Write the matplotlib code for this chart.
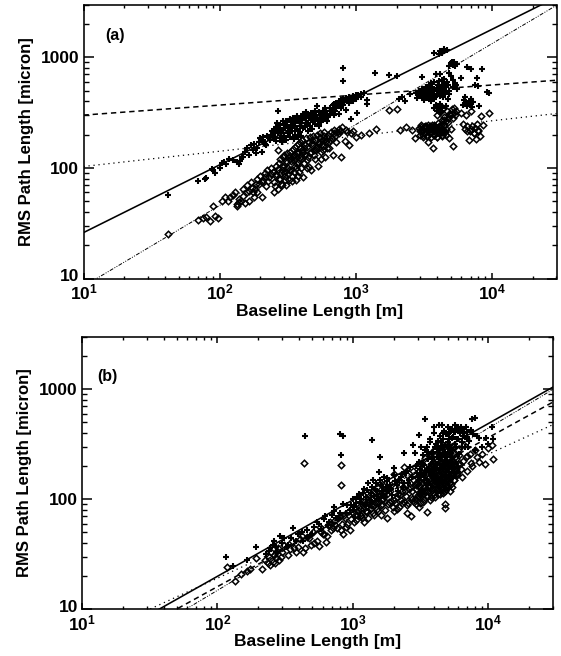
import matplotlib
matplotlib.use('Agg')
import matplotlib.pyplot as plt
from matplotlib.ticker import NullFormatter, FixedLocator
from matplotlib.transforms import ScaledTranslation

plt.rcParams['font.family'] = ['Liberation Sans', 'DejaVu Sans']
plt.rcParams['font.weight'] = 'bold'
plt.rcParams['mathtext.fontset'] = 'custom'
plt.rcParams['mathtext.rm'] = 'Liberation Sans:bold'
plt.rcParams['mathtext.bf'] = 'Liberation Sans:bold'

# panel (a) crosses
a_plus_x = [42, 70, 78, 80, 88, 90, 92, 100, 104, 108, 112, 118, 125, 135, 138, 142, 146,
            150, 155, 160, 165, 170, 175, 180, 185, 190, 195, 200, 205, 210, 215, 220, 230, 240,
            250, 250, 260, 260, 270, 270, 280, 280, 290, 290, 300, 300, 310, 310, 320, 320, 330, 330,
            340, 340, 350, 350, 360, 360, 370, 370, 380, 380, 390, 390, 400, 400, 410, 410, 430, 430,
            450, 450, 470, 470, 480, 480, 500, 500, 525, 520, 540, 540, 560, 560, 580, 580, 600, 600,
            620, 620, 650, 650, 680, 680, 700, 700, 720, 720, 750, 750, 780, 780, 805, 805, 810, 810,
            850, 850, 900, 900, 925, 950, 950, 1000, 1000, 1030, 1100, 1100, 1220, 1220, 1400, 1750, 2020,
            2100, 2200, 2300, 2500, 2800, 2850, 2950, 3000, 3080, 3100, 3150, 3200, 3300, 3300, 3400, 3400,
            3500, 3500, 3600, 3600, 3600, 3700, 3700, 3800, 3800, 3800, 3900, 3900, 4000, 4000, 4000,
            4100, 4100, 4200, 4200, 4200, 4300, 4300, 4300, 4400, 4400, 4500, 4500, 4600, 4700, 4800, 4900, 4900,
            5000, 5200, 5200, 5400, 5500, 5600, 5950, 6300, 6400, 6600, 6700, 6800, 7000, 7000, 7200, 7500,
            7800, 8000, 8100, 8500, 9270, 9600,
            3800, 4100, 4200, 4300, 4400, 4500, 4700, 4900, 5000, 5100, 5200, 5300, 5400, 5600,
            210, 225, 235, 245, 255, 265, 275, 285, 295, 305, 315, 325, 335, 345, 355, 365, 375, 385, 395, 405,
            415, 425, 435, 445, 455, 465, 475, 490, 510, 530, 550, 570, 590, 610, 630, 660, 690, 710, 740, 770,
            820, 870, 920, 980, 1050, 1150,
            2950, 3050, 3150, 3250, 3350, 3450, 3550, 3650, 3750, 3850, 3950, 4050, 4150, 4250, 4350, 4450, 4550,
            4650, 4750, 4850, 4000, 4100, 4200, 3800, 3900, 4300, 6500, 6600, 6900, 6200, 7100, 7300, 3300, 3500, 3700]
a_plus_y = [57, 76, 80, 81, 97, 95, 90, 100, 110, 112, 108, 120, 118, 112, 108, 116, 125,
            125, 140, 150, 130, 160, 145, 165, 135, 150, 170, 185, 140, 178, 165, 160, 190, 200,
            190, 215, 175, 235, 324, 205, 185, 245, 220, 172, 250, 195, 180, 265, 230, 205, 275, 190,
            240, 215, 182, 285, 255, 200, 225, 295, 190, 265, 240, 210, 280, 195, 310, 230, 320, 255,
            300, 215, 315, 270, 225, 290, 250, 330, 364, 280, 240, 320, 300, 260, 330, 275, 345, 290,
            300, 265, 350, 310, 370, 330, 300, 380, 390, 345, 400, 310, 410, 350, 803, 612, 420, 370,
            430, 335, 440, 385, 276, 450, 400, 460, 420, 316, 470, 440, 412, 380, 728, 698, 680,
            420, 440, 400, 470, 480, 430, 500, 460, 670, 520, 450, 410, 540, 470, 500, 430,
            560, 450, 590, 480, 400, 520, 440, 600, 500, 420, 708, 370, 530, 460, 350,
            610, 480, 700, 540, 380, 620, 500, 350, 560, 440, 640, 520, 360, 600, 560, 725, 470,
            680, 620, 540, 580, 560, 520, 656, 410, 440, 810, 375, 390, 790, 420, 355, 560,
            650, 545, 364, 787, 490, 475,
            1090, 1080, 1130, 1100, 1150, 1180, 1160, 830, 880, 900, 860, 910, 840, 870,
            190, 195, 180, 215, 205, 255, 225, 210, 265, 230, 245, 215, 260, 280, 240, 270, 215, 285, 255, 270,
            295, 235, 285, 255, 280, 240, 300, 270, 300, 265, 285, 310, 310, 325, 290, 330, 350, 325, 365, 380,
            395, 405, 420, 440, 455, 480,
            450, 480, 430, 500, 460, 520, 420, 540, 470, 440, 500, 560, 450, 520, 470, 590, 480,
            540, 420, 500, 330, 345, 320, 345, 360, 330, 390, 360, 405, 370, 375, 395, 440, 490, 430]

# panel (a) diamonds
a_dia_x = [42, 70, 75, 80, 85, 92, 97, 90, 105, 110, 115, 120, 125, 130, 135, 140, 145, 150, 155, 160,
           160, 165, 170, 175, 180, 185, 190, 190, 200, 205, 210, 215, 220, 225, 230, 240, 250, 253, 260, 260,
           267, 270, 275, 280, 285, 290, 290, 295, 300, 305, 310, 315, 320, 325, 330, 335, 340, 345, 350, 355,
           360, 365, 370, 375, 380, 385, 390, 395, 400, 405, 410, 420, 430, 440, 450, 460, 470, 480, 490, 500,
           510, 520, 530, 540, 550, 560, 570, 580, 590, 600, 620, 640, 660, 680, 700, 720, 750, 785, 800, 830,
           870, 900, 950, 1000, 1100, 1250, 1420, 1750, 2020, 2130, 2350, 2600, 2750,
           2950, 3000, 3050, 3100, 3150, 3200, 3250, 3300, 3350, 3400, 3400, 3500, 3500, 3600, 3600, 3700, 3700,
           3800, 3800, 3900, 3900, 4000, 4000, 4100, 4100, 4200, 4200, 4300, 4300, 4400, 4400, 4500, 4500, 4600,
           4700, 4800, 4900, 4900, 5000, 5100, 5200, 5200, 5300, 5400, 5500, 5950,
           6200, 6400, 6500, 6600, 6800, 6900, 7000, 7200, 7400, 7500, 7700, 7800, 8000, 8200, 8400, 8700, 9500,
           135, 140, 150, 165, 172, 182, 195, 205, 215, 228, 238, 248, 258, 268, 278, 288, 298, 308, 318, 328,
           338, 348, 358, 368, 378, 388, 398, 412, 425, 438, 452, 465, 478, 492, 505, 525, 545, 565, 585, 610,
           630, 650, 690, 730, 770, 850, 920,
           3000, 3100, 3200, 3300, 3400, 3500, 3600, 3700, 3800, 3900, 4000, 4100, 4200, 4300, 4400, 4500, 4600,
           3050, 3250, 3450, 3650, 3850, 4050, 4250, 4450, 4650, 4800, 4950, 5100, 5300,
           # denser parts of the lower band
           255, 272, 282, 292, 302, 312, 322, 332, 342, 352, 362, 372, 382, 392, 402, 415, 428, 442, 455, 468,
           482, 495, 515, 535, 555, 575, 595, 615, 640, 670, 710, 750,
           3150, 3350, 3550, 3750, 3950, 4150, 4350, 4550, 3200, 3400, 3600, 3800, 4000, 4200, 4400, 6600, 7000, 7400, 7900]
a_dia_y = [25, 34, 35, 36, 33, 37, 35, 45, 50, 54, 50, 55, 57, 60, 47, 49, 50, 65, 48, 70,
           61, 50, 75, 60, 55, 72, 80, 61, 85, 55, 78, 90, 68, 95, 82, 100, 75, 61, 105, 88,
           145, 64, 110, 120, 72, 70, 95, 125, 130, 85, 70, 135, 100, 78, 140, 115, 76, 148, 92, 130,
           155, 78, 108, 165, 85, 140, 170, 100, 120, 178, 82, 150, 185, 100, 125, 190, 95, 160, 195, 120,
           145, 200, 105, 165, 205, 120, 180, 145, 210, 125, 190, 150, 210, 130, 220, 170, 225, 126, 236, 175,
           210, 160, 215, 190, 200, 207, 225, 335, 342, 218, 236, 222, 188,
           230, 200, 245, 215, 190, 235, 205, 240, 195, 225, 173, 240, 205, 235, 190, 150, 225,
           245, 200, 350, 215, 300, 190, 240, 205, 320, 230, 270, 195, 345, 215, 290, 240, 200,
           330, 260, 185, 305, 225, 340, 158, 280, 350, 300, 330, 315,
           250, 225, 300, 240, 179, 215, 330, 240, 205, 230, 184, 250, 220, 195, 295, 245, 316,
           45, 52, 56, 62, 66, 64, 72, 74, 82, 76, 88, 92, 84, 98, 80, 105, 90, 115, 88, 120,
           95, 125, 105, 135, 112, 150, 128, 140, 160, 118, 170, 135, 178, 145, 180, 155, 190, 165, 195, 175,
           200, 180, 205, 210, 215, 220, 205,
           215, 225, 205, 232, 215, 225, 210, 230, 218, 205, 225, 212, 228, 210, 222, 215, 225,
           235, 240, 230, 245, 235, 255, 245, 270, 265, 280, 300, 310, 320,
           68, 80, 90, 102, 78, 112, 95, 128, 84, 118, 100, 138, 92, 122, 145, 110, 130, 155, 102, 140,
           168, 132, 150, 172, 138, 158, 182, 150, 170, 185, 195, 205,
           200, 195, 210, 200, 190, 205, 198, 210, 235, 245, 225, 240, 230, 238, 222, 215, 225, 205, 215]

# panel (b) crosses
b_plus_x = [115, 130, 165, 192, 230, 245, 260, 270, 290, 310, 330, 360, 380, 420, 442, 470, 520, 560, 610, 650,
            700, 720, 750, 800, 805, 815, 850, 900, 950, 1000, 1050, 1100, 1150, 1200, 1250, 1300, 1350, 1390, 1400, 1450,
            1500, 1550, 1580, 1600, 1650, 1700, 1750, 1800, 1900, 2000, 2000, 2100, 2200, 2300, 2370, 2400, 2500, 2600, 2770, 2850,
            2900, 3000, 3100, 3100, 3200, 3300, 3430, 3500, 3500, 3600, 3700, 3800, 3900, 4000, 4000, 4100, 4200, 4300, 4400, 4540,
            4600, 4700, 4800, 4900, 5000, 5100, 5200, 5300, 5400, 5500, 5700, 5800, 6000, 6100, 6300, 6500, 6700, 7000, 7200, 7600,
            7900, 8000, 8500, 9000, 9600, 10000, 10600, 10800, 3200, 3400, 3700, 4000, 4300, 4600, 5000, 5400, 5800, 6200, 6600, 7000,
            1020, 1080, 1130, 1180, 1230, 1280, 1330, 1380, 1430, 1480, 1530, 1580, 1630, 1680, 1730, 1780, 1830, 1880, 1950, 2050,
            2150, 2250, 2350, 2450, 2550, 2650, 2750, 2950, 3050, 3150, 3250, 3350, 3450, 3550, 3650, 3750, 3850, 3950, 4050, 4150,
            4250, 4350, 4450, 4550, 4650, 4750, 4850, 4950, 5050, 5150, 5250, 5350, 5450, 5550, 5650, 5900, 6200, 6400, 6600, 6900,
            7100, 7400, 7700, 8200, 3300, 3600, 3900, 4200, 4500, 4800, 5100, 5400, 5700, 6000, 6400, 6800,
            # lower edge of the band and the short baselines
            240, 255, 275, 300, 325, 350, 390, 430, 460, 500, 540, 580, 620, 670, 730, 780, 840, 890, 960, 1010]
b_plus_y = [30, 24.6, 28, 36.8, 32, 36, 41.5, 37, 46, 44, 38, 54.5, 42, 50, 376, 45, 56, 60, 66, 58,
            72, 85, 68, 75, 393, 255, 375, 88, 80, 100, 92, 112, 100, 125, 105, 140, 115, 344, 150, 125,
            118, 177, 240, 135, 120, 160, 130, 145, 125, 194, 165, 135, 150, 170, 265, 140, 180, 150, 314, 265,
            200, 160, 387, 220, 175, 250, 537, 300, 190, 230, 350, 210, 270, 400, 180, 320, 240, 290, 380, 478,
            260, 420, 310, 220, 454, 350, 280, 430, 240, 370, 478, 300, 455, 260, 455, 380, 300, 410, 340, 542,
            550, 280, 360, 300, 363, 320, 454, 355, 300, 280, 330, 450, 470, 400, 390, 440, 440, 420, 400, 350,
            85, 105, 95, 115, 88, 122, 98, 130, 108, 140, 100, 150, 112, 128, 105, 155, 118, 135, 110, 145,
            120, 160, 130, 175, 140, 195, 160, 175, 150, 190, 165, 205, 180, 150, 260, 170, 230, 190, 300, 210,
            340, 250, 300, 200, 350, 270, 390, 240, 330, 400, 260, 360, 210, 420, 320, 350, 400, 330, 440, 370,
            300, 430, 390, 380, 210, 270, 240, 290, 330, 260, 310, 280, 410, 350, 300, 450,
            34, 38, 33, 40, 37, 44, 48, 42, 52, 48, 62, 54, 70, 62, 78, 68, 90, 75, 88, 80]

# panel (b) diamonds
b_dia_x = [118, 135, 150, 165, 175, 192, 215, 225, 235, 240, 245, 250, 255, 260, 265, 270, 275, 285, 300, 330, 370, 380, 410, 430, 433,
           460, 490, 520, 558, 580, 600, 630, 660, 690, 720, 760, 800, 810, 815, 820, 850, 870, 900, 950, 1000,
           1050, 1100, 1150, 1200, 1200, 1250, 1300, 1300, 1350, 1400, 1400, 1450, 1500, 1500, 1550, 1600, 1600, 1650, 1700, 1780, 1800, 1850, 1900, 2000, 2000,
           2100, 2200, 2200, 2300, 2370, 2400, 2500, 2500, 2600, 2700, 2700, 2800, 2900, 2900, 3000, 3000, 3100, 3100, 3200, 3200, 3300, 3300, 3400, 3400, 3530, 3500,
           3600, 3600, 3700, 3700, 3800, 3800, 3900, 3900, 4000, 4000, 4000, 4100, 4100, 4200, 4200, 4200, 4300, 4300, 4400, 4400, 4500, 4500, 4500, 4600, 4600,
           4700, 4700, 4800, 4800, 4800, 4900, 4900, 5000, 5000, 5100, 5100, 5200, 5300, 5400, 5500, 5600, 5700, 5800, 6000, 6200, 6400, 6600, 6800, 7000, 7300, 7600,
           8000, 8500, 9000, 9500, 10000, 10600, 10900,
           1020, 1070, 1120, 1170, 1220, 1270, 1320, 1370, 1420, 1470, 1520, 1570, 1620, 1670, 1720, 1770, 1820, 1870, 1920, 1970,
           2050, 2150, 2250, 2350, 2450, 2550, 2650, 2750, 2850, 2950, 3050, 3150, 3250, 3350, 3450, 3550, 3650, 3750, 3850, 3950,
           4050, 4150, 4250, 4350, 4450, 4550, 4650, 4750, 4850, 4950, 5050, 5150, 5250, 5350, 5450, 5550, 5650, 5750, 5900, 6100,
           3100, 3300, 3500, 3700, 3900, 4100, 4300, 4500, 4700, 4900, 5100, 5300, 5500, 5700, 6000, 6300,
           3200, 3400, 3600, 3800, 4000, 4200, 4400, 4600, 4800, 5000, 5200, 5400, 5600, 5800, 6500, 7000, 7500, 8200,
           # low side of the band
           280, 295, 310, 345, 355, 395, 420, 445, 475, 505, 540, 570, 610, 645, 680, 710, 740, 780, 830, 860, 885, 930, 970,
           1040, 1090, 1140, 1190, 1240, 1290, 1340, 1390, 1440, 1490, 1540, 1590, 1640, 1690, 1740,
           2020, 2120, 2220, 2320, 2420, 2520, 2620, 2720, 2820, 2920, 3020, 3120, 3220, 3320, 3420, 3520, 3620, 3720, 3820, 3920,
           4020, 4120, 4220, 4320, 4420, 4520, 4620, 4720, 4820, 4920, 5020, 5120, 5220, 5320, 5420,
           # solid part of the main cloud
           2900, 3000, 3150, 3250, 3350, 3450, 3550, 3650, 3750, 3850, 3950, 4050, 4150, 4250, 4350, 4450, 4550, 4650, 4750, 4850,
           3950, 4080, 4180, 4280, 4380, 4480, 4580, 4680, 4780, 4880, 4980, 5080, 5180, 5280, 5380, 5480, 5580, 5680, 5780, 5880]
b_dia_y = [24, 18, 21, 22, 23, 29, 23, 28, 26, 30, 25, 33, 27, 31, 26, 29, 34, 28, 33, 31, 36, 33, 43, 33, 212,
           45, 38, 40, 37.4, 50, 48, 41, 58, 52, 63, 55, 70, 205, 135, 52, 48, 68, 60, 52, 75,
           65, 85, 72, 95, 62, 78, 105, 68, 88, 115, 75, 95, 130, 82, 105, 140, 72, 90, 115, 68, 125, 95, 135, 169, 78,
           105, 150, 85, 120, 195, 95, 165, 75, 125, 105, 70, 180, 140, 90, 200, 110, 150, 85, 215, 120, 170, 95, 235, 130, 77, 105,
           190, 120, 250, 145, 105, 210, 165, 125, 280, 190, 110, 230, 150, 300, 200, 125, 260, 165, 320, 220, 140, 270, 180, 115, 240,
           300, 155, 200, 90, 84, 250, 130, 310, 175, 220, 140, 265, 160, 200, 300, 150, 240, 180, 280, 210, 160, 310, 240, 180, 260, 200,
           280, 220, 260, 210, 290, 314, 230,
           62, 72, 82, 68, 90, 76, 98, 84, 72, 92, 78, 108, 88, 100, 80, 112, 90, 118, 96, 85,
           92, 112, 98, 130, 108, 92, 140, 118, 100, 160, 130, 105, 175, 120, 150, 190, 135, 165, 210, 145,
           125, 225, 170, 140, 250, 195, 155, 280, 215, 170, 240, 190, 290, 215, 165, 260, 200, 230, 175, 250,
           135, 155, 175, 195, 160, 180, 205, 225, 190, 145, 205, 170, 225, 205, 210, 190,
           115, 150, 130, 170, 160, 140, 190, 150, 225, 195, 180, 225, 190, 170, 225, 245, 215, 240,
           36, 30, 38, 35, 42, 37, 46, 36, 44, 50, 42, 56, 48, 46, 62, 55, 58, 68, 60, 72, 56, 78, 66,
           72, 80, 70, 88, 78, 92, 82, 100, 88, 105, 92, 112, 100, 106, 118,
           98, 82, 110, 92, 118, 88, 128, 100, 95, 135, 105, 92, 118, 100, 145, 108, 128, 98, 140, 115,
           105, 155, 122, 135, 112, 160, 125, 142, 118, 170, 128, 150, 120, 138, 165,
           125, 140, 112, 155, 128, 118, 145, 132, 175, 122, 152, 138, 185, 112, 160, 130, 205, 148, 172, 125,
           215, 182, 142, 198, 122, 165, 232, 178, 150, 195, 135, 210, 158, 185, 128, 170, 148, 205, 190, 165]

# fit lines, both ends of the axis range
line_x = [10, 30000]
a_solid = [26, 3490]
a_dash = [300, 620]
a_dot = [103, 310]
a_dd = [8.5, 2950]
b_solid = [4.0, 1050]
b_dash = [3.35, 767]
b_dot = [5.2, 478]
b_dd = [2.7, 1000]

x_ticks = [10, 100, 1000, 10000]
x_labels = [r'$\mathbf{10^{1}}$', r'$\mathbf{10^{2}}$', r'$\mathbf{10^{3}}$', r'$\mathbf{10^{4}}$']
y_ticks = [10, 100, 1000]
y_labels = ['10', '100', '1000']


def draw_panel(ax, plus_x, plus_y, dia_x, dia_y, solid, dash, dot, dd, tag, tag_x, tag_y):
    ax.plot(line_x, solid, '-', color='k', lw=1.15)
    ax.plot(line_x, dash, color='k', lw=1.1, dashes=(3.5, 2.5))
    ax.plot(line_x, dot, color='k', lw=0.9, dashes=(1, 3))
    ax.plot(line_x, dd, color='k', lw=0.7, dashes=(4, 1.5, 1, 1.5, 1, 1.5))
    ax.plot(plus_x, plus_y, '+', color='k', ms=4.6, mew=1.5)
    ax.plot(dia_x, dia_y, 'D', mfc='none', mec='k', ms=3.3, mew=1.1)
    ax.set_xscale('log')
    ax.set_yscale('log')
    ax.set_xlim(10, 30000)
    ax.set_ylim(10, 3000)
    ax.xaxis.set_major_locator(FixedLocator(x_ticks))
    ax.yaxis.set_major_locator(FixedLocator(y_ticks))
    ax.set_xticklabels(x_labels, fontsize=12.5)
    ax.set_yticklabels(y_labels, fontsize=12.5)
    ax.xaxis.set_minor_formatter(NullFormatter())
    ax.yaxis.set_minor_formatter(NullFormatter())
    ax.tick_params(axis='x', which='major', direction='in', top=True, length=4.2, width=1.1, pad=3)
    ax.tick_params(axis='x', which='minor', direction='in', top=True, length=2.2, width=1.0)
    ax.tick_params(axis='y', which='major', direction='in', right=True, length=7.2, width=1.1, pad=3)
    ax.tick_params(axis='y', which='minor', direction='in', right=True, length=3.6, width=1.0)
    for s in ax.spines.values():
        s.set_linewidth(1.15)
    ax.set_xlabel('Baseline Length [m]', fontsize=12.6, fontweight='bold', labelpad=1)
    ax.set_ylabel('RMS Path Length [micron]', fontsize=12, fontweight='bold', labelpad=5)
    ax.text(tag_x, tag_y, tag, transform=ax.transAxes, fontsize=11.5, fontweight='bold')
    # the lowest y label sits a little above its tick, clear of the x labels
    low = ax.get_yticklabels()[0]
    low.set_transform(low.get_transform() + ScaledTranslation(0, 2.5 / 72, fig.dpi_scale_trans))


fig = plt.figure(figsize=(5.61, 6.56), dpi=100)
W, H = 561.0, 656.0
ax1 = fig.add_axes([83.5 / W, 1 - 278.5 / H, 473 / W, 274 / H])
ax2 = fig.add_axes([82 / W, 1 - 609 / H, 471 / W, 272 / H])
draw_panel(ax1, a_plus_x, a_plus_y, a_dia_x, a_dia_y, a_solid, a_dash, a_dot, a_dd, '(a)', 0.045, 0.872)
draw_panel(ax2, b_plus_x, b_plus_y, b_dia_x, b_dia_y, b_solid, b_dash, b_dot, b_dd, '(b)', 0.032, 0.838)
fig.savefig('out.png', dpi=100)
